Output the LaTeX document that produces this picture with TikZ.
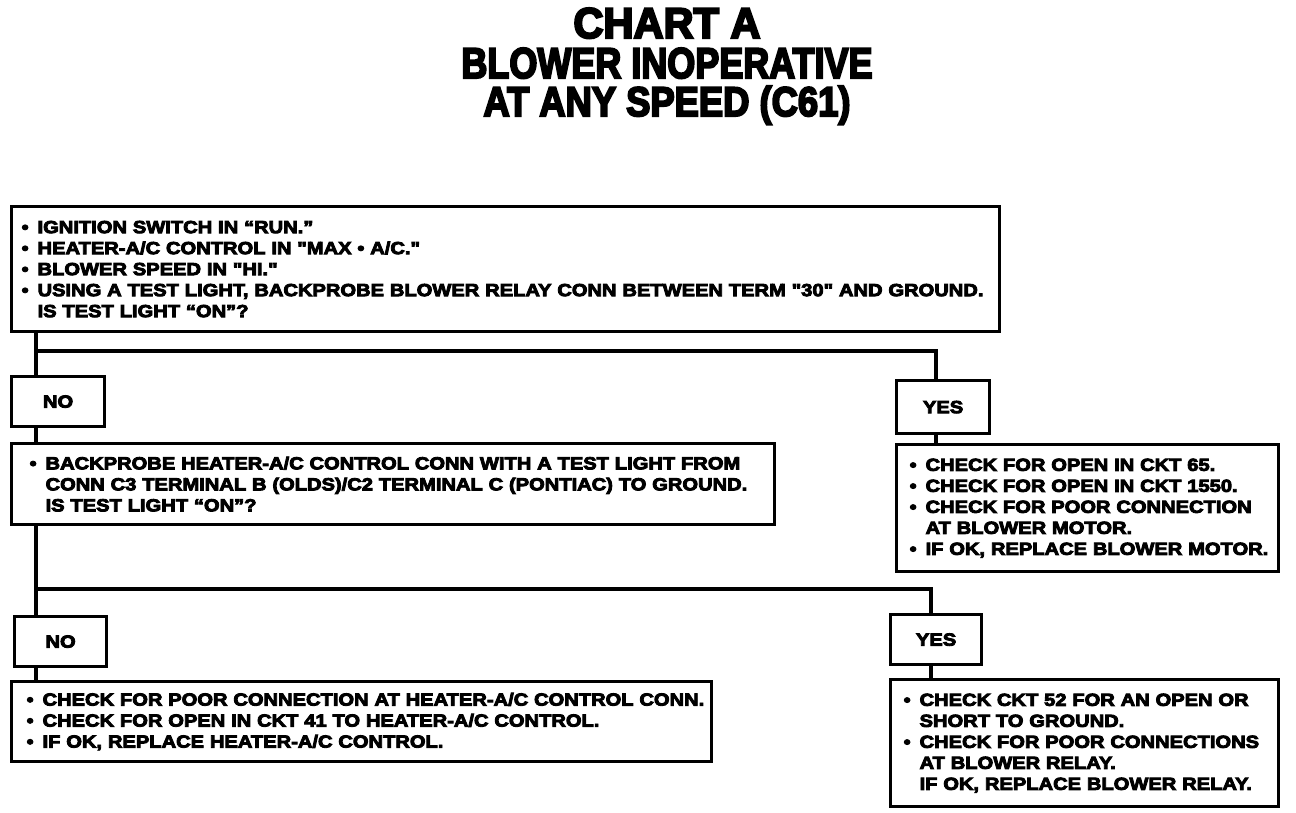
\documentclass[tikz,border=0pt]{standalone}
\usepackage{fontspec}
\setmainfont{Liberation Sans}
\newfontfamily\bodyfnt[FakeStretch=1.15,FakeBold=5]{Liberation Sans Bold}
\newfontfamily\titlefnt[FakeBold=5]{Liberation Sans Bold}
\newcommand\bodytext{\bodyfnt\fontsize{17.5pt}{21pt}\selectfont}
\newcommand\bu{\makebox[16pt][l]{•}}
\newcommand\ind{\hspace*{16pt}}
\newcommand\li[1]{\mbox{#1}}
\begin{document}
\begin{tikzpicture}[x=1pt,y=-1pt,
  box/.style={draw,line width=3.2pt,anchor=north west,inner sep=0pt,align=left,font=\bodytext},
  lab/.style={draw,line width=3.2pt,anchor=north west,inner sep=0pt,font=\bodytext},
  conn/.style={line width=4.6pt},
  ttl/.style={anchor=base,inner sep=0pt}]
\useasboundingbox[fill=white] (0,0) rectangle (1296,812);

% title
\node[ttl] (t1) at (667,38) {\resizebox{187pt}{30pt}{\titlefnt CHART A}};
\node[ttl] (t2) at (667,78) {\resizebox{411pt}{30pt}{\titlefnt BLOWER INOPERATIVE}};
\node[ttl] (t3) at (667,116) {\resizebox{367pt}{30pt}{\titlefnt AT ANY SPEED (C61)}};

% boxes
\node[box,minimum width=988pt,minimum height=125pt,text width=968pt] (top) at (10,205)
 {\li{\bu IGNITION SWITCH IN “RUN.”}\\
  \li{\bu HEATER-A/C CONTROL IN "MAX • A/C."}\\
  \li{\bu BLOWER SPEED IN "HI."}\\
  \li{\bu USING A TEST LIGHT, BACKPROBE BLOWER RELAY CONN BETWEEN TERM "30" AND GROUND.}\\
  \li{\ind IS TEST LIGHT “ON”?}};

\node[lab,minimum width=93pt,minimum height=50pt] (no1) at (10,375) {NO};
\node[lab,minimum width=93pt,minimum height=53pt] (yes1) at (895,379) {YES};

\node[box,minimum width=763pt,minimum height=81pt,text width=727pt] (mid) at (10,442)
 {\li{\bu BACKPROBE HEATER-A/C CONTROL CONN WITH A TEST LIGHT FROM}\\
  \li{\ind CONN C3 TERMINAL B (OLDS)/C2 TERMINAL C (PONTIAC) TO GROUND.}\\
  \li{\ind IS TEST LIGHT “ON”?}};

\node[box,minimum width=382pt,minimum height=127pt,text width=356pt] (res1) at (895,443)
 {\li{\bu CHECK FOR OPEN IN CKT 65.}\\
  \li{\bu CHECK FOR OPEN IN CKT 1550.}\\
  \li{\bu CHECK FOR POOR CONNECTION}\\
  \li{\ind AT BLOWER MOTOR.}\\
  \li{\bu IF OK, REPLACE BLOWER MOTOR.}};

\node[lab,minimum width=92pt,minimum height=50pt] (no2) at (13,615) {NO};
\node[lab,minimum width=91pt,minimum height=50pt] (yes2) at (889,613) {YES};

\node[box,minimum width=700pt,minimum height=80pt,text width=670pt] (botl) at (10,680)
 {\li{\bu CHECK FOR POOR CONNECTION AT HEATER-A/C CONTROL CONN.}\\
  \li{\bu CHECK FOR OPEN IN CKT 41 TO HEATER-A/C CONTROL.}\\
  \li{\bu IF OK, REPLACE HEATER-A/C CONTROL.}};

\node[box,minimum width=388pt,minimum height=127pt,text width=362pt] (res2) at (889,678)
 {\li{\bu CHECK CKT 52 FOR AN OPEN OR}\\
  \li{\ind SHORT TO GROUND.}\\
  \li{\bu CHECK FOR POOR CONNECTIONS}\\
  \li{\ind AT BLOWER RELAY.}\\
  \li{\ind IF OK, REPLACE BLOWER RELAY.}};

% junction coordinates
\coordinate (j1) at (36,351);
\coordinate (j2) at (936,351);
\coordinate (j3) at (36,589);
\coordinate (j4) at (931,589);

% connectors
\draw[conn] (top.south -| j1) -- (no1.north -| j1);
\draw[conn] (j1) -- (j2) -- (yes1.north -| j2);
\draw[conn] (no1.south -| j1) -- (mid.north -| j1);
\draw[conn] (yes1.south -| j2) -- (res1.north -| j2);
\draw[conn] (mid.south -| j3) -- (no2.north -| j3);
\draw[conn] (j3) -- (j4) -- (yes2.north -| j4);
\draw[conn] (no2.south -| j3) -- (botl.north -| j3);
\draw[conn] (yes2.south -| j4) -- (res2.north -| j4);
\end{tikzpicture}
\end{document}
